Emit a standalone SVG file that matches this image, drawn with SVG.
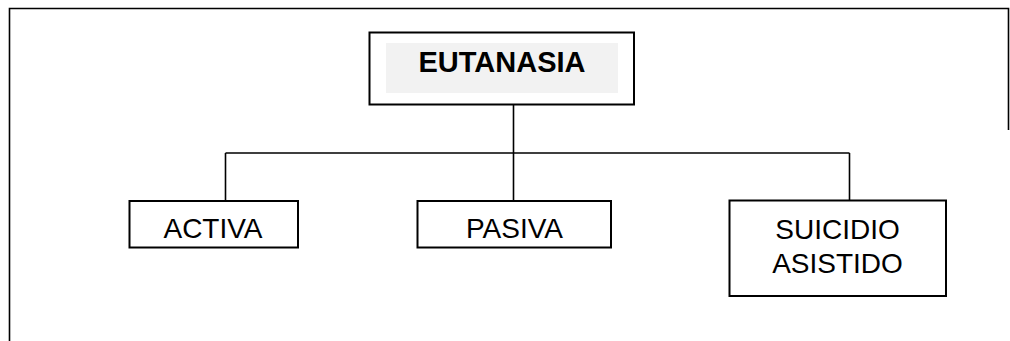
<svg xmlns="http://www.w3.org/2000/svg" width="1010" height="341" viewBox="0 0 1010 341">
<style>
.box{fill:#fff;stroke:#000;stroke-width:2}
.ln{fill:none;stroke:#000;stroke-width:1.6}
.t{font-family:"Liberation Sans",Arial,sans-serif;font-size:28px;fill:#000;text-anchor:middle}
.b{font-weight:bold;font-size:29px}
</style>
<rect width="1010" height="341" fill="#fff"/>
<g id="frame">
<path class="ln" d="M9.5,341 V8.5 H1008.5 V130"/>
</g>
<g id="connectors">
<path class="ln" d="M513.5,105 V153 M225.5,153 H849.5 M225.5,153 V201 M513.5,153 V201 M849.5,153 V200"/>
</g>
<g id="eutanasia">
<rect class="box" x="369.5" y="32.5" width="264.5" height="72"/>
<rect x="386" y="43" width="232" height="50" fill="#f2f2f2"/>
<text class="t b" x="502" y="71.5">EUTANASIA</text>
</g>
<g id="activa">
<rect class="box" x="129.5" y="201" width="168.5" height="46.5"/>
<text class="t" x="213" y="238">ACTIVA</text>
</g>
<g id="pasiva">
<rect class="box" x="417.5" y="201" width="193.5" height="46.5"/>
<text class="t" x="514.5" y="238">PASIVA</text>
</g>
<g id="suicidio">
<rect class="box" x="729.5" y="200.5" width="216.5" height="95.5"/>
<text class="t" x="837.5" y="239">SUICIDIO</text>
<text class="t" x="837.5" y="273">ASISTIDO</text>
</g>
</svg>
